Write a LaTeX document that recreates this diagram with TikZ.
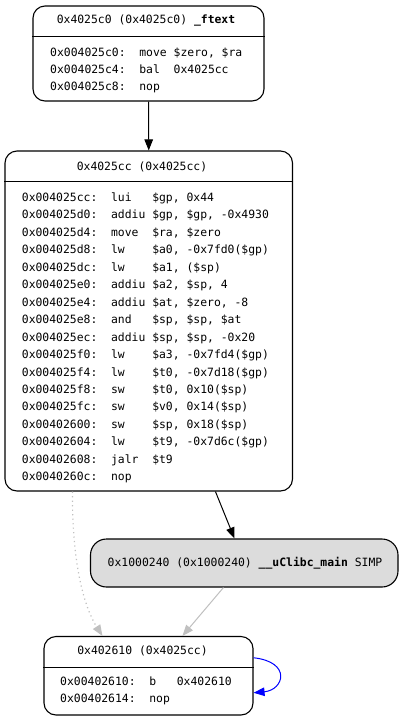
\documentclass[tikz,border=0pt]{standalone}
\usepackage{fontspec}
\setmonofont{DejaVu Sans Mono}
\usetikzlibrary{arrows.meta}
\definecolor{edgegrey}{HTML}{C0C0C0}
\definecolor{nodegrey}{HTML}{DCDCDC}
\newcommand{\asmfont}{\ttfamily\fontsize{11.4}{17.45}\selectfont}
\newcommand{\asmtab}[1]{\begin{tabular}[t]{@{}l@{\hspace{13.7pt}}l@{\hspace{6.86pt}}l@{}}#1\end{tabular}}
\begin{document}
\begin{tikzpicture}[x=1pt,y=-1pt,
  box/.style={draw=black,line width=1.1pt,rectangle,rounded corners=12pt,inner sep=0pt},
  txt/.style={inner sep=0pt,font=\asmfont,text=black},
  body/.style={txt,anchor=base west},
  sep/.style={draw=black,line width=0.9pt},
  blackedge/.style={-{Triangle[length=11pt,width=8.5pt,fill=black]},draw=black,line width=1pt},
  greyedge/.style={-{Triangle[length=11pt,width=8.5pt,fill=edgegrey]},draw=edgegrey,line width=1pt},
  dotedge/.style={-{Triangle[length=11pt,width=8.5pt,fill=edgegrey,sep=0pt]},draw=edgegrey,line width=1.2pt,dash pattern=on 1.2pt off 3.3pt},
  blueedge/.style={-{Triangle[length=11pt,width=8.5pt,fill=blue]},draw=blue,line width=1pt}]
\useasboundingbox (0,0) rectangle (404,721);
\fill[white] (0,0) rectangle (404,721);

% boxes
\node[box,minimum width=231pt,minimum height=95pt] (n1) at (148.5,53.5) {};
\node[box,minimum width=287.5pt,minimum height=340pt] (n2) at (148.75,321) {};
\node[box,fill=nodegrey,rounded corners=16pt,minimum width=307.5pt,minimum height=48pt] (n3) at (244.25,563) {};
\node[box,minimum width=209pt,minimum height=78.5pt] (n4) at (148.5,675.75) {};

% separators
\draw[sep] (n1.west |- 0,36.5) coordinate (s1a) -- (n1.east |- 0,36.5) coordinate (s1b);
\draw[sep] (n2.west |- 0,181) coordinate (s2a) -- (n2.east |- 0,181) coordinate (s2b);
\draw[sep] (n4.west |- 0,667) coordinate (s4a) -- (n4.east |- 0,667) coordinate (s4b);

% headers
\node[txt] (h1) at (146,20.5) {0x4025c0 (0x4025c0) \textbf{\_ftext}};
\node[txt] (h2) at (142,167) {0x4025cc (0x4025cc)};
\node[txt] (h3) at (245,563) {0x1000240 (0x1000240) \textbf{\_\_uClibc\_main} SIMP};
\node[txt] (h4) at (142.5,651) {0x402610 (0x4025cc)};

% bodies
\node[body] (b1) at (50,56) {\asmtab{%
0x004025c0: & move & \$zero, \$ra\\
0x004025c4: & bal & 0x4025cc\\
0x004025c8: & nop & }};
\node[body] (b2) at (21.7,201.5) {\asmtab{%
0x004025cc: & lui & \$gp, 0x44\\
0x004025d0: & addiu & \$gp, \$gp, -0x4930\\
0x004025d4: & move & \$ra, \$zero\\
0x004025d8: & lw & \$a0, -0x7fd0(\$gp)\\
0x004025dc: & lw & \$a1, (\$sp)\\
0x004025e0: & addiu & \$a2, \$sp, 4\\
0x004025e4: & addiu & \$at, \$zero, -8\\
0x004025e8: & and & \$sp, \$sp, \$at\\
0x004025ec: & addiu & \$sp, \$sp, -0x20\\
0x004025f0: & lw & \$a3, -0x7fd4(\$gp)\\
0x004025f4: & lw & \$t0, -0x7d18(\$gp)\\
0x004025f8: & sw & \$t0, 0x10(\$sp)\\
0x004025fc: & sw & \$v0, 0x14(\$sp)\\
0x00402600: & sw & \$sp, 0x18(\$sp)\\
0x00402604: & lw & \$t9, -0x7d6c(\$gp)\\
0x00402608: & jalr & \$t9\\
0x0040260c: & nop & }};
\node[body] (b4) at (60,685) {\asmtab{%
0x00402610: & b & 0x402610\\
0x00402614: & nop & }};

% edges
\draw[blackedge] (n1.south) -- (n2.north);
\draw[blackedge] ([xshift=211pt]n2.south west) -- ([xshift=144.5pt]n3.north west);
\draw[dotedge] ([xshift=68pt]n2.south west) .. controls (72,570) and (86,610) .. ([xshift=59pt]n4.north west);
\draw[greyedge] ([xshift=133.5pt]n3.south west) -- ([xshift=139pt]n4.north west);
\draw[blueedge] ([yshift=18pt]n4.east) .. controls (292,662) and (284,690) .. ([yshift=-17pt]n4.east);
\end{tikzpicture}
\end{document}
